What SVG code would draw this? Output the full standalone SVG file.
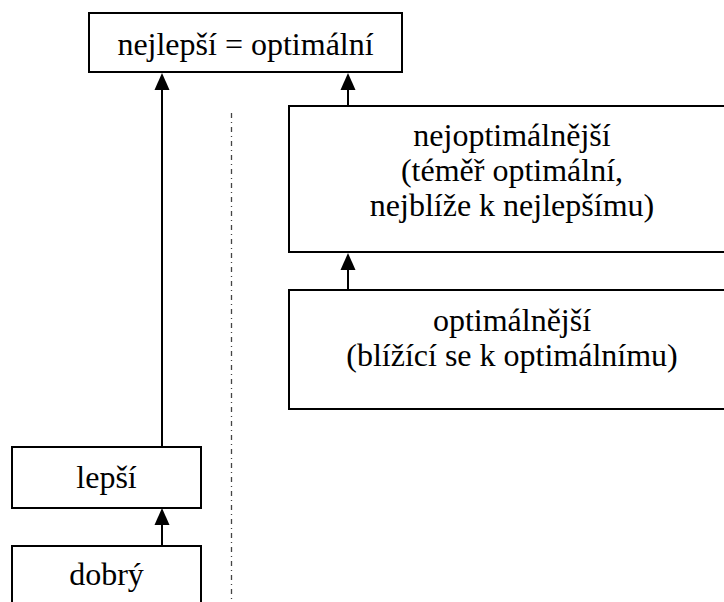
<svg xmlns="http://www.w3.org/2000/svg" width="724" height="602" viewBox="0 0 724 602">
<defs>
<path id="ah" d="M-7.5,17 L0,0 L7.5,17 Z" fill="#000"/>
</defs>
<rect width="724" height="602" fill="#fff"/>
<g id="divider">
<line x1="231.5" y1="113" x2="231.5" y2="602" stroke="#444" stroke-width="1.3" stroke-dasharray="5 4 1 4"/>
</g>
<g id="connectors" stroke="#000" stroke-width="2" fill="none">
<path d="M162,447 V88"/>
<path d="M348,106 V88"/>
<path d="M348,290 V268"/>
<path d="M162,546 V523"/>
</g>
<g id="arrowheads">
<use href="#ah" x="162" y="73"/>
<use href="#ah" x="348" y="73"/>
<use href="#ah" x="348" y="253"/>
<use href="#ah" x="162" y="508"/>
</g>
<g fill="#fff" stroke="#000" stroke-width="2">
<rect id="box-nejlepsi" x="89" y="13" width="313" height="59"/>
<rect id="box-nejoptimalnejsi" x="289" y="106" width="442" height="146"/>
<rect id="box-optimalnejsi" x="289" y="290" width="442" height="119"/>
<rect id="box-lepsi" x="12" y="447" width="189" height="61"/>
<rect id="box-dobry" x="12" y="546" width="189" height="70"/>
</g>
<g id="labels" font-family="'Liberation Serif', 'Times New Roman', serif" font-size="32" text-anchor="middle" fill="#000">
<text x="245.5" y="55">nejlepší = optimální</text>
<text x="512" y="146">nejoptimálnější</text>
<text x="512" y="181">(téměř optimální,</text>
<text x="512" y="216">nejblíže k nejlepšímu)</text>
<text x="512" y="331">optimálnější</text>
<text x="512" y="366">(blížící se k optimálnímu)</text>
<text x="106.5" y="488">lepší</text>
<text x="106.5" y="585">dobrý</text>
</g>
</svg>
